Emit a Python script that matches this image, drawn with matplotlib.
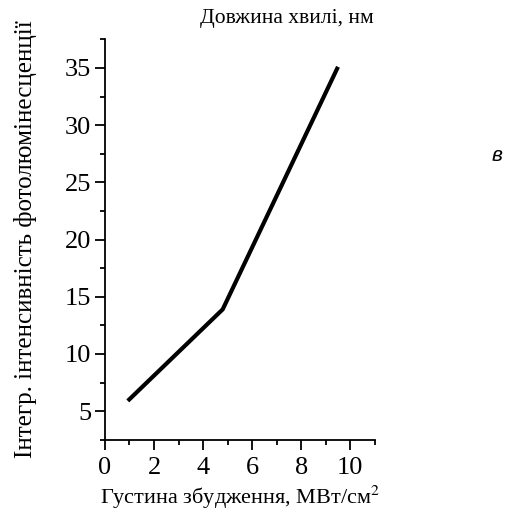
import matplotlib
matplotlib.use("Agg")
import matplotlib.pyplot as plt
from matplotlib.ticker import MultipleLocator

# дані
density = [0.93, 4.8, 9.5]        # МВт/см^2
intensity = [5.9, 13.9, 35.1]     # інтегр. інтенсивність

x_ticks = [0, 2, 4, 6, 8, 10]
y_ticks = [5, 10, 15, 20, 25, 30, 35]

plt.rcParams['font.family'] = ['Liberation Serif', 'DejaVu Serif']
plt.rcParams['mathtext.fontset'] = 'stix'

fig = plt.figure(figsize=(5.12, 5.18), dpi=100)
ax = fig.add_axes([0.205, 0.151, 0.527, 0.773])

ax.plot(density, intensity, color='black', linewidth=3.0, solid_capstyle='butt')

ax.set_xlim(0, 11)
ax.set_ylim(2.5, 37.5)
ax.set_xticks(x_ticks)
ax.set_yticks(y_ticks)
ax.xaxis.set_minor_locator(MultipleLocator(1))
ax.yaxis.set_minor_locator(MultipleLocator(2.5))

for s in ['top', 'right']:
    ax.spines[s].set_visible(False)
for s in ['left', 'bottom']:
    ax.spines[s].set_linewidth(1.3)

ax.tick_params(which='major', direction='out', length=7.5, width=1.3, labelsize=19, pad=2.5)
ax.tick_params(which='minor', direction='out', length=3.8, width=1.3)
ax.tick_params(axis='x', which='major', pad=5)

ax.set_xlabel('Густина збудження, МВт/см$^2$', fontsize=16, labelpad=3)
ax.set_ylabel('Інтегр. інтенсивність фотолюмінесценції', fontsize=18, labelpad=20)

fig.text(0.56, 0.965, 'Довжина хвилі, нм', fontsize=15.5, ha='center', va='center')
fig.text(0.97, 0.70, 'в', fontsize=15, style='italic', ha='center', va='center',
         family=['Liberation Sans', 'DejaVu Sans'])

fig.savefig('out.png', dpi=100)
